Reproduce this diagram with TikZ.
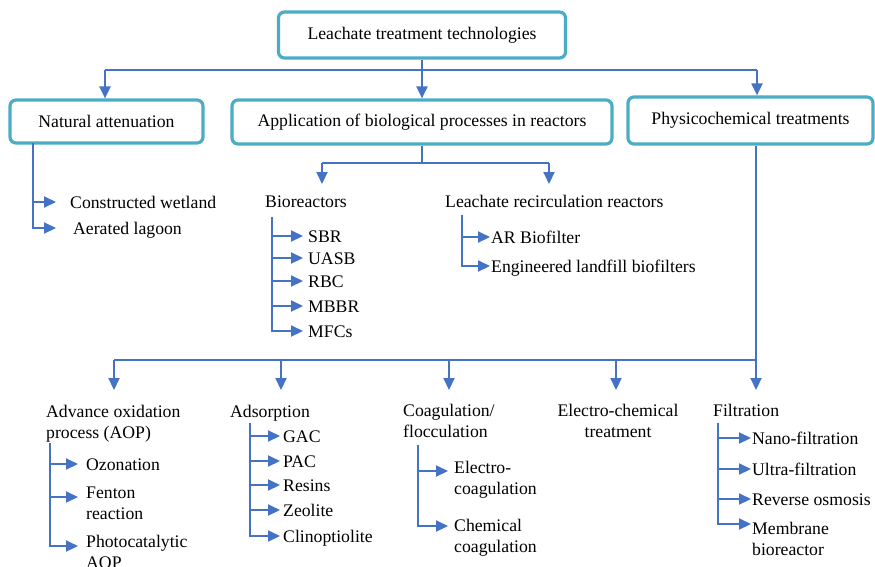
\documentclass[tikz,border=0pt]{standalone}
\usepackage{fontspec}
\setmainfont{Liberation Serif}
\usetikzlibrary{arrows.meta}
\definecolor{boxc}{RGB}{75,172,198}
\definecolor{linec}{RGB}{68,114,196}
\tikzset{
  box/.style={draw=boxc, line width=3.2pt, rounded corners=6pt, inner sep=0pt, align=center},
  lbl/.style={inner sep=0pt, anchor=base west, align=left},
  ln/.style={draw=linec, line width=2.1pt},
  thin/.style={draw=linec, line width=1.5pt},
  arr/.style={ln, -{Triangle[length=12pt,width=11pt]}},
}
\begin{document}
\begin{tikzpicture}[x=1pt,y=-1pt,font=\fontsize{17.7}{21}\selectfont]
\useasboundingbox (0,0) rectangle (875,566);
\clip (0,0) rectangle (875,566);
% boxes
\node[box, minimum width=287pt, minimum height=46pt] (top) at (422,35) {Leachate treatment technologies};
\node[box, minimum width=193pt, minimum height=43pt] (nat) at (106.5,121.5) {Natural attenuation};
\node[box, minimum width=380pt, minimum height=44pt] (bio) at (422,122) {Application of biological processes in reactors};
\node[box, minimum width=245pt, minimum height=47pt] (phys) at (750.5,120.5) {Physicochemical treatments};
% top connectors
\coordinate (h1a) at (105,70);
\coordinate (h1b) at (757,70);
\draw[thin] (h1a) -- (h1b);
\draw[arr] (top.south) -- (bio.north);
\draw[arr] (h1a) -- (h1a |- nat.north);
\draw[arr] (h1b) -- (h1b |- phys.north);
% natural attenuation
\node[lbl] (cw) at (70,208) {Constructed wetland};
\node[lbl] (al) at (73,234) {Aerated lagoon};
\coordinate (nt) at (33,143);
\draw[arr] (nt) |- ([shift={(-14,-6)}]cw.base west);
\draw[arr] (nt) |- ([shift={(-17,-6)}]al.base west);
% biological
\node[lbl] (brx) at (265,207) {Bioreactors};
\node[lbl] (lrr) at (445,207) {Leachate recirculation reactors};
\coordinate (bj) at (422,163);
\coordinate (bjl) at (322,163);
\coordinate (bjr) at (549,163);
\draw[ln] (bio.south) -- (bj);
\draw[thin] (bjl) -- (bjr);
\draw[arr] (bjl) -- ++(0,21);
\draw[arr] (bjr) -- ++(0,21);
% bioreactors
\node[lbl] (sbr) at (308,242) {SBR};
\node[lbl] (uasb) at (308,264) {UASB};
\node[lbl] (rbc) at (308,287) {RBC};
\node[lbl] (mbbr) at (308,312) {MBBR};
\node[lbl] (mfc) at (308,337) {MFCs};
\coordinate (bt) at (272,217);
\foreach \n in {sbr,uasb,rbc,mbbr,mfc}
  \draw[arr] (bt) |- ([shift={(-5,-6)}]\n.base west);
% leachate recirculation
\node[lbl] (arb) at (491,243) {AR Biofilter};
\node[lbl] (elb) at (491,272) {Engineered landfill biofilters};
\coordinate (lt) at (462,215);
\draw[arr] (lt) |- ([shift={(-1,-6)}]arb.base west);
\draw[arr] (lt) |- ([shift={(-1,-6)}]elb.base west);
% physicochemical
\coordinate (pv) at (756,360);
\coordinate (p1) at (114,360);
\coordinate (p2) at (281,360);
\coordinate (p3) at (449,360);
\coordinate (p4) at (616,360);
\draw[ln] (pv |- phys.south) -- (pv);
\draw[thin] (p1) -- (pv);
\foreach \p in {p1,p2,p3,p4,pv}
  \draw[arr] (\p) -- ++(0,30);
% bottom headings
\node[lbl] (aop) at (46,438) {Advance oxidation\\process (AOP)};
\node[lbl] (ads) at (230,417) {Adsorption};
\node[lbl] (coa) at (403,437) {Coagulation/\\flocculation};
\node[inner sep=0pt, anchor=base, align=center] (ect) at (618,437) {Electro-chemical\\treatment};
\node[lbl] (fil) at (713,416) {Filtration};
% AOP
\node[lbl] (ozo) at (86,470) {Ozonation};
\node[lbl] (fen) at (86,519) {Fenton\\reaction};
\node[lbl] (pho) at (86,568) {Photocatalytic\\AOP};
\coordinate (at) at (50,443);
\draw[arr] (at) |- ([shift={(-8,-6)}]ozo.base west);
\draw[arr] (at) |- ([shift={(-8,-22)}]fen.base west);
\draw[arr] (at) |- ([shift={(-8,-22)}]pho.base west);
% adsorption
\node[lbl] (gac) at (283,442) {GAC};
\node[lbl] (pac) at (283,467) {PAC};
\node[lbl] (res) at (283,491) {Resins};
\node[lbl] (zeo) at (283,516) {Zeolite};
\node[lbl] (cli) at (283,542) {Clinoptiolite};
\coordinate (adt) at (250,423);
\foreach \n in {gac,pac,res,zeo,cli}
  \draw[arr] (adt) |- ([shift={(-3,-6)}]\n.base west);
% coagulation
\node[lbl] (elc) at (454,494) {Electro-\\coagulation};
\node[lbl] (chc) at (454,552) {Chemical\\coagulation};
\coordinate (ct) at (418,445);
\draw[arr] (ct) |- ([shift={(-6,-23)}]elc.base west);
\draw[arr] (ct) |- ([shift={(-6,-26)}]chc.base west);
% filtration
\node[lbl] (nano) at (752,444) {Nano-filtration};
\node[lbl] (ultra) at (752,475) {Ultra-filtration};
\node[lbl] (ro) at (752,505) {Reverse osmosis};
\node[lbl] (mbr) at (752,555) {Membrane\\bioreactor};
\coordinate (ft) at (718,423);
\draw[arr] (ft) |- ([shift={(-1,-6)}]nano.base west);
\draw[arr] (ft) |- ([shift={(-1,-6)}]ultra.base west);
\draw[arr] (ft) |- ([shift={(-1,-6)}]ro.base west);
\draw[arr] (ft) |- ([shift={(-1,-31)}]mbr.base west);
\end{tikzpicture}
\end{document}
